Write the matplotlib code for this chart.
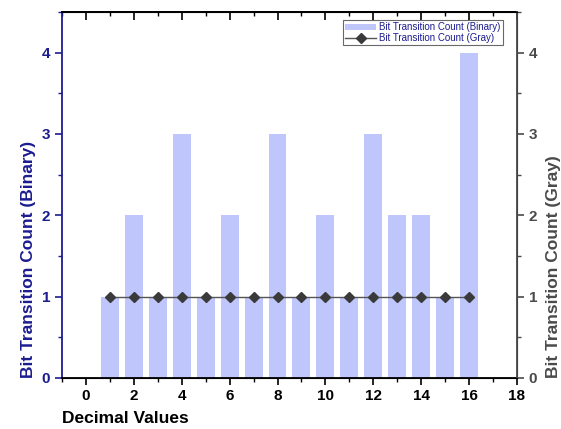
import matplotlib.pyplot as plt
from matplotlib.ticker import MultipleLocator

# data
decimal_values = list(range(1, 17))
binary_counts = [1, 2, 1, 3, 1, 2, 1, 3, 1, 2, 1, 3, 2, 2, 1, 4]
gray_counts = [1] * 16

navy = "#1c1c90"
gray = "#4a4a4a"

plt.rcParams["font.family"] = ["Liberation Sans", "DejaVu Sans"]

fig = plt.figure(figsize=(5.61, 4.29), dpi=100)
ax = fig.add_axes([0.1105, 0.119, 0.811, 0.853])

bars = ax.bar(decimal_values, binary_counts, width=0.75, color="#bfc6fb",
              label="Bit Transition Count (Binary)", zorder=2)

ax2 = ax.twinx()
line, = ax2.plot(decimal_values, gray_counts, color="#555555", lw=1.0,
                 marker="D", ms=5.5, mfc="#3a3a3a", mec="#3a3a3a",
                 label="Bit Transition Count (Gray)", zorder=3)

ax.set_xlim(-1, 18)
ax.set_ylim(0, 4.5)
ax2.set_ylim(0, 4.5)

ax.xaxis.set_major_locator(MultipleLocator(2))
ax.xaxis.set_minor_locator(MultipleLocator(1))
ax.yaxis.set_major_locator(MultipleLocator(1))
ax.yaxis.set_minor_locator(MultipleLocator(0.5))
ax2.yaxis.set_major_locator(MultipleLocator(1))
ax2.yaxis.set_minor_locator(MultipleLocator(0.5))

# spines
ax.spines["left"].set_color(navy)
ax.spines["left"].set_linewidth(1.3)
ax.spines["bottom"].set_linewidth(1.3)
ax.spines["top"].set_linewidth(1.3)
ax2.spines["right"].set_color(gray)
ax2.spines["right"].set_linewidth(1.3)
ax2.spines["left"].set_visible(False)

# ticks
ax.tick_params(axis="x", which="major", direction="out", length=5, width=1.2,
               labelsize=11, pad=3)
ax.tick_params(axis="x", which="minor", direction="out", length=3, width=1.0)
ax.tick_params(axis="y", which="major", direction="out", length=5, width=1.2,
               color=navy, labelcolor=navy, labelsize=11)
ax.tick_params(axis="y", which="minor", direction="out", length=3, width=1.0, color=navy)
ax2.tick_params(axis="y", which="major", direction="out", length=5, width=1.2,
                color=gray, labelcolor=gray, labelsize=11)
ax2.tick_params(axis="y", which="minor", direction="out", length=3, width=1.0, color=gray)

# top axis: inward ticks, no labels
top = ax.secondary_xaxis("top")
top.xaxis.set_major_locator(MultipleLocator(2))
top.xaxis.set_minor_locator(MultipleLocator(1))
top.tick_params(which="major", direction="in", length=6, width=1.2, labeltop=False)
top.tick_params(which="minor", direction="in", length=3, width=1.0)
top.spines["top"].set_linewidth(1.3)

for lab in ax.get_xticklabels() + ax.get_yticklabels() + ax2.get_yticklabels():
    lab.set_fontweight("bold")

ax.set_xlabel("Decimal Values", fontsize=12.5, fontweight="bold", loc="left", labelpad=6)
ax.set_ylabel("Bit Transition Count (Binary)", fontsize=12.5, fontweight="bold",
              color=navy, loc="bottom", labelpad=4)
ax2.set_ylabel("Bit Transition Count (Gray)", fontsize=12.5, fontweight="bold",
               color=gray, loc="bottom", labelpad=6)

leg = ax2.legend([bars, line], [bars.get_label(), line.get_label()],
                 loc="upper right", bbox_to_anchor=(0.975, 0.985), fontsize=7,
                 frameon=True, fancybox=False, edgecolor="#444444",
                 borderpad=0.2, labelspacing=0.1, handlelength=3.2,
                 handletextpad=0.3, borderaxespad=0.3)
leg.get_frame().set_linewidth(0.8)
for txt in leg.get_texts():
    txt.set_color(navy)

plt.savefig("out.png", dpi=100)
